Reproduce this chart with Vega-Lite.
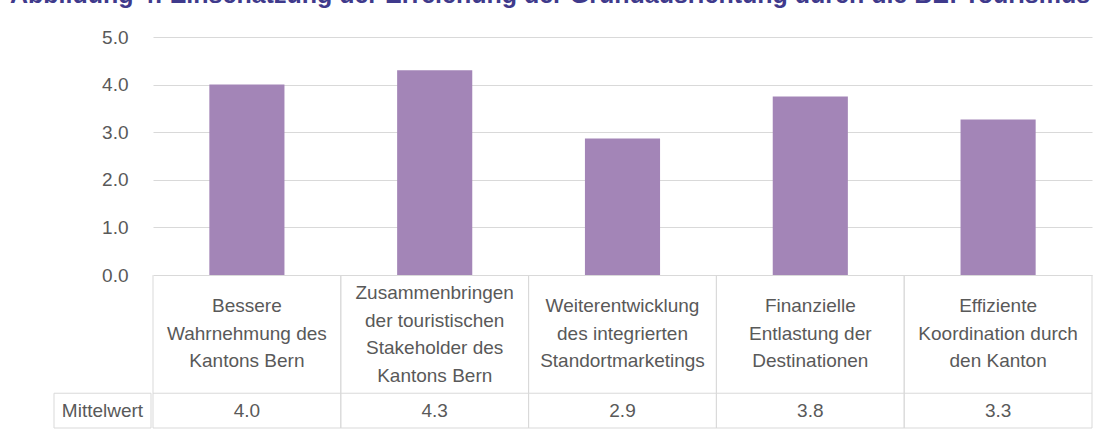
{
  "$schema": "https://vega.github.io/schema/vega-lite/v6.json",
  "padding": {"left": 10, "top": -17, "right": 3, "bottom": 3},
  "background": "white",
  "config": {"font": "Liberation Sans", "view": {"stroke": null}},
  "title": {
    "text": "Abbildung 4: Einschätzung der Erreichung der Grundausrichtung durch die BE! Tourismus",
    "anchor": "start",
    "frame": "group",
    "dx": -44,
    "fontSize": 25,
    "fontWeight": "bold",
    "color": "#3F3A8C",
    "baseline": "alphabetic",
    "offset": 0
  },
  "datasets": {
    "werte": [
      {"kategorie": "Bessere\nWahrnehmung des\nKantons Bern", "wert": 4.0},
      {"kategorie": "Zusammenbringen\nder touristischen\nStakeholder des\nKantons Bern", "wert": 4.3},
      {"kategorie": "Weiterentwicklung\ndes integrierten\nStandortmarketings", "wert": 2.87},
      {"kategorie": "Finanzielle\nEntlastung der\nDestinationen", "wert": 3.75},
      {"kategorie": "Effiziente\nKoordination durch\nden Kanton", "wert": 3.27}
    ]
  },
  "spacing": 0,
  "resolve": {"scale": {"y": "independent"}},
  "hconcat": [
    {
      "width": 97,
      "height": 391,
      "data": {"values": [{"zeile": "Mittelwert"}]},
      "layer": [
        {
          "mark": {"type": "rect", "fill": "white", "stroke": "#d9d9d9", "strokeWidth": 1},
          "encoding": {
            "y": {
              "datum": -2.48,
              "type": "quantitative",
              "scale": {"domain": [-3.21, 5], "nice": false, "zero": false},
              "axis": {
                "values": [0, 1, 2, 3, 4, 5],
                "format": ".1f",
                "offset": -97,
                "labelPadding": 23,
                "domain": false,
                "ticks": false,
                "grid": false,
                "labelFontSize": 19,
                "labelColor": "#595959",
                "labelFont": "Liberation Sans",
                "title": null
              }
            },
            "y2": {"datum": -3.21}
          }
        },
        {
          "mark": {"type": "text", "fontSize": 19, "color": "#595959", "baseline": "middle"},
          "encoding": {
            "y": {"datum": -2.845, "type": "quantitative"},
            "text": {"field": "zeile"}
          }
        }
      ]
    },
    {
      "width": 939,
      "height": 391,
      "data": {"name": "werte"},
      "layer": [
        {
          "mark": {"type": "bar", "color": "#A385B7", "width": {"band": 0.4}},
          "encoding": {
            "x": {"field": "kategorie", "type": "nominal", "sort": null, "scale": {"paddingInner": 0, "paddingOuter": 0}, "axis": null},
            "y": {
              "field": "wert",
              "type": "quantitative",
              "scale": {"domain": [-3.21, 5], "nice": false, "zero": false},
              "axis": {
                "values": [0, 1, 2, 3, 4, 5],
                "grid": true,
                "gridColor": "#d9d9d9",
                "gridWidth": 1,
                "labels": false,
                "ticks": false,
                "domain": false,
                "title": null
              }
            },
            "y2": {"datum": 0}
          }
        },
        {
          "mark": {"type": "rule", "color": "#d9d9d9", "strokeWidth": 1},
          "encoding": {
            "x": {"field": "kategorie", "type": "nominal", "sort": null, "bandPosition": 0},
            "y": {"datum": 0, "type": "quantitative"},
            "y2": {"datum": -3.21}
          }
        },
        {
          "mark": {"type": "rule", "color": "#d9d9d9", "strokeWidth": 1},
          "encoding": {
            "x": {"field": "kategorie", "type": "nominal", "sort": null, "bandPosition": 1},
            "y": {"datum": 0, "type": "quantitative"},
            "y2": {"datum": -3.21}
          }
        },
        {
          "data": {"values": [{}]},
          "mark": {"type": "rule", "color": "#d9d9d9", "strokeWidth": 1},
          "encoding": {"y": {"datum": -2.48, "type": "quantitative"}}
        },
        {
          "data": {"values": [{}]},
          "mark": {"type": "rule", "color": "#d9d9d9", "strokeWidth": 1},
          "encoding": {"y": {"datum": -3.21, "type": "quantitative"}}
        },
        {
          "transform": [{"filter": "split(datum.kategorie, '\\n').length == 3"}],
          "mark": {"type": "text", "fontSize": 19, "color": "#595959", "lineBreak": "\n", "lineHeight": 27.5, "baseline": "middle"},
          "encoding": {
            "x": {"field": "kategorie", "type": "nominal", "sort": null},
            "y": {"datum": -0.65, "type": "quantitative"},
            "text": {"field": "kategorie"}
          }
        },
        {
          "transform": [{"filter": "split(datum.kategorie, '\\n').length == 4"}],
          "mark": {"type": "text", "fontSize": 19, "color": "#595959", "lineBreak": "\n", "lineHeight": 27.5, "baseline": "middle"},
          "encoding": {
            "x": {"field": "kategorie", "type": "nominal", "sort": null},
            "y": {"datum": -0.38, "type": "quantitative"},
            "text": {"field": "kategorie"}
          }
        },
        {
          "mark": {"type": "text", "fontSize": 19, "color": "#595959", "baseline": "middle"},
          "encoding": {
            "x": {"field": "kategorie", "type": "nominal", "sort": null},
            "y": {"datum": -2.845, "type": "quantitative"},
            "text": {"field": "wert", "type": "quantitative", "format": ".1f"}
          }
        }
      ]
    }
  ]
}
